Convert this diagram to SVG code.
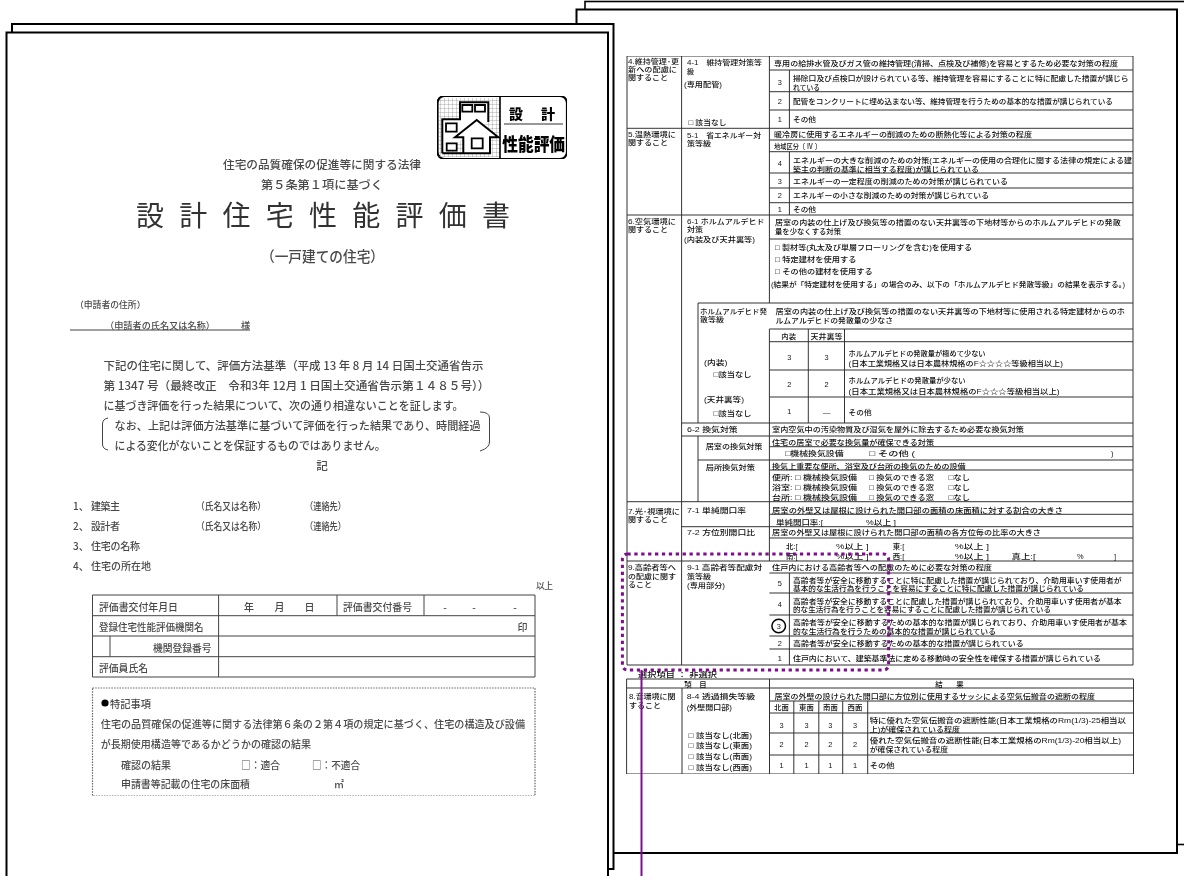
<svg xmlns="http://www.w3.org/2000/svg" width="1184" height="876" viewBox="0 0 1184 876">
<style>
text{font-family:"Noto Sans CJK JP","Noto Sans",sans-serif;dominant-baseline:central}
tspan{dominant-baseline:central}
.p{fill:#fff;stroke:#000;stroke-width:2}
.a{font-size:10px;fill:#4a4a4a;font-weight:500}
.b{font-family:"Liberation Sans","Noto Sans CJK JP",sans-serif;font-size:7.4px;fill:#111;font-weight:500;transform:translateY(.5px)}
.s{font-size:7px}
.c{text-anchor:middle}
.l{fill:none;stroke:#444;stroke-width:1}
.r{fill:none;stroke:#333;stroke-width:1}
</style>
<defs>
<filter id="soft" x="0" y="0" width="100%" height="100%"><feGaussianBlur stdDeviation="0.75"/></filter>
<filter id="softer" x="0" y="0" width="100%" height="100%"><feGaussianBlur stdDeviation="0.4"/></filter>
<pattern id="grid" width="4" height="4" patternUnits="userSpaceOnUse"><path d="M4 0H0V4" fill="none" stroke="#888" stroke-width=".7"/></pattern>
</defs>
<g id="sheets">
<rect class="p" x="585" y="1.500" width="620" height="843" style="stroke-width:1.600"/>
<rect class="p" x="576.500" y="9.500" width="600.500" height="843.500"/>
<rect class="p" x="12" y="24" width="601.500" height="845"/>
<rect class="p" x="6.500" y="32.500" width="601.500" height="860"/>
</g>
<g id="logo" filter="url(#softer)">
<rect x="437.500" y="96" width="129.500" height="63" rx="7" fill="#fff" stroke="#000" stroke-width="2.200"/>
<rect x="439" y="98" width="61" height="59" fill="url(#grid)"/>
<path d="M500 96V159" stroke="#000" stroke-width="1.600"/>
<path d="M442.300 153.300V119.300H460V102.300H488.300V122M463.300 153.300H442.300M455 137.300L476.700 120L498.300 137.300H490V153.300H463.300V137.300Z" fill="#fff" stroke="#000" stroke-width="2"/>
<path d="M462.300 105h10v6.700h-10zM475 105h10v6.700h-10zM446 123.300h10.700v8.400h-10.700zM446.700 143.300h10v7.400h-10zM471.700 138.300h11v10h-11z" fill="#fff" stroke="#000" stroke-width="1.800"/>
<path d="M504 124H563" stroke="#333"/>
<text x="516" y="112.500" class="c" style="font-size:14px;font-weight:900;fill:#000">設</text>
<text x="548" y="112.500" class="c" style="font-size:14px;font-weight:900;fill:#000">計</text>
<text x="502.300" y="142.500" textLength="62.700" lengthAdjust="spacingAndGlyphs" style="font-size:18px;font-weight:900;fill:#000">性能評価</text>
</g>
<g id="certificate-page" filter="url(#soft)">
<g id="title">
<text class="a" x="223" y="164" textLength="198" lengthAdjust="spacingAndGlyphs" style="font-size:11.600px">住宅の品質確保の促進等に関する法律</text>
<text class="a" x="261" y="184" textLength="122" lengthAdjust="spacingAndGlyphs" style="font-size:11.600px">第５条第１項に基づく</text>
<text class="a" x="136" y="214" textLength="374" style="font-size:28px;fill:#333;font-weight:400">設計住宅性能評価書</text>
<text class="a" x="261" y="255" textLength="123" lengthAdjust="spacingAndGlyphs" style="font-size:14.500px">（一戸建ての住宅）</text>
</g>
<g id="applicant">
<text class="a" x="75" y="304" textLength="70.500" lengthAdjust="spacingAndGlyphs" style="font-size:8.800px">（申請者の住所）</text>
<text class="a" x="105" y="325" textLength="110" lengthAdjust="spacingAndGlyphs" style="font-size:9.200px">（申請者の氏名又は名称）</text>
<text class="a" x="241" y="325" style="font-size:9.200px">様</text>
<path class="l" d="M70 330H250"/>
</g>
<g id="statement">
<text class="a" x="103.500" y="365" textLength="380" lengthAdjust="spacingAndGlyphs" style="font-size:11.600px">下記の住宅に関して、評価方法基準（平成 13 年 8 月 14 日国土交通省告示</text>
<text class="a" x="103.500" y="385" textLength="386" lengthAdjust="spacingAndGlyphs" style="font-size:11.600px">第 1347 号（最終改正　令和3年 12月 1 日国土交通省告示第１４８５号））</text>
<text class="a" x="103.500" y="405" textLength="360" lengthAdjust="spacingAndGlyphs" style="font-size:11.600px">に基づき評価を行った結果について、次の通り相違ないことを証します。</text>
<text class="a" x="114.600" y="425" textLength="366" lengthAdjust="spacingAndGlyphs" style="font-size:11.600px">なお、上記は評価方法基準に基づいて評価を行った結果であり、時間経過</text>
<text class="a" x="114.600" y="445" textLength="271" lengthAdjust="spacingAndGlyphs" style="font-size:11.600px">による変化がないことを保証するものではありません。</text>
<path class="l" d="M108 418Q102.500 419 102.500 424V444Q102.500 449 108 450M480 412Q489.500 412 489.500 418V442Q489.500 448 480 451"/>
<text class="a c" x="322" y="465" style="font-size:11.600px">記</text>
</g>
<g id="items">
<text class="a" x="73" y="505">1、</text><text class="a" x="91" y="505" textLength="29">建築主</text><text class="a" x="196" y="505" textLength="70" lengthAdjust="spacingAndGlyphs">（氏名又は名称）</text><text class="a" x="305" y="505" textLength="41" lengthAdjust="spacingAndGlyphs">（連絡先）</text>
<text class="a" x="73" y="525">2、</text><text class="a" x="91" y="525" textLength="29">設計者</text><text class="a" x="196" y="525" textLength="70" lengthAdjust="spacingAndGlyphs">（氏名又は名称）</text><text class="a" x="305" y="525" textLength="41" lengthAdjust="spacingAndGlyphs">（連絡先）</text>
<text class="a" x="73" y="545">3、</text><text class="a" x="91" y="545" textLength="49">住宅の名称</text>
<text class="a" x="73" y="565">4、</text><text class="a" x="91" y="565" textLength="60">住宅の所在地</text>
<text class="a" x="536" y="585" textLength="17" style="font-size:8.800px">以上</text>
</g>
<g id="issue-table">
<path class="l" d="M92.500 595H535V677H92.500ZM92.500 615.700H535M92.500 636H535M110 656.700H535M92.500 656.700H110M218.600 595V677M337 595V615.700M424 595V615.700M110 636V656.700"/>
<text class="a" x="99" y="606" textLength="79" lengthAdjust="spacingAndGlyphs">評価書交付年月日</text>
<text class="a c" x="249" y="606">年</text><text class="a c" x="279.500" y="606">月</text><text class="a c" x="309.500" y="606">日</text>
<text class="a" x="343" y="606" textLength="69" lengthAdjust="spacingAndGlyphs">評価書交付番号</text>
<text class="a c" x="445" y="606">-</text><text class="a c" x="474" y="606">-</text><text class="a c" x="515" y="606">-</text>
<text class="a" x="99" y="626.500" textLength="104.500" lengthAdjust="spacingAndGlyphs">登録住宅性能評価機関名</text>
<text class="a c" x="522.500" y="626.500">印</text>
<text class="a" x="153" y="647" textLength="58.500" lengthAdjust="spacingAndGlyphs">機関登録番号</text>
<text class="a" x="99" y="667.500" textLength="49" lengthAdjust="spacingAndGlyphs">評価員氏名</text>
</g>
<g id="notes">
<rect x="92.500" y="688" width="442.500" height="108" fill="none" stroke="#666" stroke-width="1.200" stroke-dasharray="1.500 1.200"/>
<circle cx="105" cy="703" r="3.600" fill="#000"/>
<text class="a" x="110" y="703" textLength="41" lengthAdjust="spacingAndGlyphs">特記事項</text>
<text class="a" x="100.800" y="723" textLength="424.200" lengthAdjust="spacingAndGlyphs">住宅の品質確保の促進等に関する法律第６条の２第４項の規定に基づく、住宅の構造及び設備</text>
<text class="a" x="100.800" y="743" textLength="210.200" lengthAdjust="spacingAndGlyphs">が長期使用構造等であるかどうかの確認の結果</text>
<text class="a" x="121" y="764" textLength="50">確認の結果</text>
<text class="a" x="241" y="764" textLength="39" lengthAdjust="spacingAndGlyphs">□：適合</text>
<text class="a" x="312" y="764" textLength="48" lengthAdjust="spacingAndGlyphs">□：不適合</text>
<text class="a" x="121" y="783" textLength="129" lengthAdjust="spacingAndGlyphs">申請書等記載の住宅の床面積</text>
<text class="a" x="334" y="783">㎡</text>
</g>
</g>
<g id="results-page" filter="url(#softer)">
<g id="main-table-lines">
<path class="r" d="M627 56H1133V665H627ZM681.600 56V665M769.400 56V303M769.400 329V423M789.400 70V128.300M789.400 151.700V215M789.400 573V665"/>
<path class="r" d="M769.400 70H1133M769.400 91.700H1133M769.400 110H1133M627 128.300H1133M769.400 140H1133M769.400 151.700H1133M769.400 173H1133M769.400 188H1133M769.400 202.700H1133M627 215H1133M769.400 239H1133M698 303H1133M698 303V423M769.400 329H1133M769.400 341.700H1133M769.400 370H1133M769.400 397H1133M681.600 423H1133M681.600 436H1133M769.400 423V501.700M769.400 446.700H1133M698 436V501.700M698 460H1133M769.400 470H1133M627 501.700H1133M808.300 329V423M844.500 329V423"/>
<path class="r" d="M769.400 514.300H1133M681.600 526.700H1133M769.400 538H1133M769.400 501.700V561M627 561H1133M769.400 573H1133M769.400 593H1133M769.400 615H1133M769.400 636H1133M769.400 649H1133"/>
</g>
<g id="section-4">
<text class="b s"><tspan x="628" y="60.500" textLength="51" lengthAdjust="spacingAndGlyphs">4.維持管理･更</tspan><tspan x="628" y="68.700" textLength="49" lengthAdjust="spacingAndGlyphs">新への配慮に</tspan><tspan x="628" y="76.900" textLength="40" lengthAdjust="spacingAndGlyphs">関すること</tspan></text>
<text class="b s"><tspan x="687" y="61.700" textLength="75" lengthAdjust="spacingAndGlyphs">4-1　維持管理対策等</tspan><tspan x="687" y="70">級</tspan></text><text class="b" x="684" y="84.300" textLength="38" lengthAdjust="spacingAndGlyphs">(専用配管)</text><text class="b" x="688.500" y="121.700" textLength="38" lengthAdjust="spacingAndGlyphs">□ 該当なし</text>
<text class="b" x="774" y="62.700" textLength="344" lengthAdjust="spacingAndGlyphs">専用の給排水管及びガス管の維持管理(清掃、点検及び補修)を容易とするため必要な対策の程度</text>
<text class="b c" x="779.800" y="82">3</text><text class="b"><tspan x="793" y="77.700" textLength="335.600" lengthAdjust="spacingAndGlyphs">掃除口及び点検口が設けられている等、維持管理を容易にすることに特に配慮した措置が講じら</tspan><tspan x="793" y="86.700" textLength="27" lengthAdjust="spacingAndGlyphs">れている</tspan></text>
<text class="b c" x="779.800" y="101">2</text><text class="b" x="793" y="101" textLength="320" lengthAdjust="spacingAndGlyphs">配管をコンクリートに埋め込まない等、維持管理を行うための基本的な措置が講じられている</text>
<text class="b c" x="779.800" y="119.300">1</text><text class="b" x="793" y="119.300" textLength="23" lengthAdjust="spacingAndGlyphs">その他</text>
</g>
<g id="section-5">
<text class="b s"><tspan x="628" y="133" textLength="48" lengthAdjust="spacingAndGlyphs">5.温熱環境に</tspan><tspan x="628" y="141.300" textLength="40" lengthAdjust="spacingAndGlyphs">関すること</tspan></text>
<text class="b s"><tspan x="687" y="134" textLength="74" lengthAdjust="spacingAndGlyphs">5-1　省エネルギー対</tspan><tspan x="687" y="142.300" textLength="24" lengthAdjust="spacingAndGlyphs">策等級</tspan></text>
<text class="b" x="774" y="134.300" textLength="258" lengthAdjust="spacingAndGlyphs">暖冷房に使用するエネルギーの削減のための断熱化等による対策の程度</text>
<text class="b" x="774" y="146" textLength="47" lengthAdjust="spacingAndGlyphs">地域区分〔 Ⅳ 〕</text>
<text class="b c" x="779.800" y="162.700">4</text><text class="b"><tspan x="793" y="159.300" textLength="339" lengthAdjust="spacingAndGlyphs">エネルギーの大きな削減のための対策(エネルギーの使用の合理化に関する法律の規定による建</tspan><tspan x="793" y="168.300" textLength="186" lengthAdjust="spacingAndGlyphs">築主の判断の基準に相当する程度)が講じられている</tspan></text>
<text class="b c" x="779.800" y="181">3</text><text class="b" x="793" y="181" textLength="215" lengthAdjust="spacingAndGlyphs">エネルギーの一定程度の削減のための対策が講じられている</text>
<text class="b c" x="779.800" y="195">2</text><text class="b" x="793" y="195" textLength="196" lengthAdjust="spacingAndGlyphs">エネルギーの小さな削減のための対策が講じられている</text>
<text class="b c" x="779.800" y="209">1</text><text class="b" x="793" y="209" textLength="23" lengthAdjust="spacingAndGlyphs">その他</text>
</g>
<g id="section-6">
<text class="b s"><tspan x="628" y="220" textLength="48" lengthAdjust="spacingAndGlyphs">6.空気環境に</tspan><tspan x="628" y="228.300" textLength="40" lengthAdjust="spacingAndGlyphs">関すること</tspan></text>
<text class="b s"><tspan x="687" y="220" textLength="77.600" lengthAdjust="spacingAndGlyphs">6-1 ホルムアルデヒド</tspan><tspan x="687" y="228.300" textLength="16" lengthAdjust="spacingAndGlyphs">対策</tspan><tspan x="684" y="238.300" textLength="71" lengthAdjust="spacingAndGlyphs">(内装及び天井裏等)</tspan></text>
<text class="b"><tspan x="775" y="221.500" textLength="345.700" lengthAdjust="spacingAndGlyphs">居室の内装の仕上げ及び換気等の措置のない天井裏等の下地材等からのホルムアルデヒドの発散</tspan><tspan x="775" y="230.200" textLength="66" lengthAdjust="spacingAndGlyphs">量を少なくする対策</tspan></text>
<text class="b" x="775" y="247.300" textLength="197" lengthAdjust="spacingAndGlyphs">□ 製材等(丸太及び単層フローリングを含む)を使用する</text>
<text class="b" x="775" y="259" textLength="81.500" lengthAdjust="spacingAndGlyphs">□ 特定建材を使用する</text>
<text class="b" x="775" y="271" textLength="97.700" lengthAdjust="spacingAndGlyphs">□ その他の建材を使用する</text>
<text class="b" x="771" y="284.300" textLength="354" lengthAdjust="spacingAndGlyphs">(結果が「特定建材を使用する」の場合のみ、以下の「ホルムアルデヒド発散等級」の結果を表示する。)</text>
<text class="b s"><tspan x="700" y="310" textLength="67" lengthAdjust="spacingAndGlyphs">ホルムアルデヒド発</tspan><tspan x="700" y="318.500" textLength="24" lengthAdjust="spacingAndGlyphs">散等級</tspan></text>
<text class="b"><tspan x="775.600" y="310.800" textLength="349.400" lengthAdjust="spacingAndGlyphs">居室の内装の仕上げ及び換気等の措置のない天井裏等の下地材等に使用される特定建材からのホ</tspan><tspan x="775.600" y="319.500" textLength="117.400" lengthAdjust="spacingAndGlyphs">ルムアルデヒドの発散量の少なさ</tspan></text>
<text class="b c" x="788.700" y="336">内装</text><text class="b c" x="826.600" y="336" textLength="32" lengthAdjust="spacingAndGlyphs">天井裏等</text>
<text class="b c" x="789.400" y="356.700">3</text><text class="b c" x="826.600" y="356.700">3</text>
<text class="b"><tspan x="848.600" y="352.700" textLength="137" lengthAdjust="spacingAndGlyphs">ホルムアルデヒドの発散量が極めて少ない</tspan><tspan x="848.600" y="362.300" textLength="214.400" lengthAdjust="spacingAndGlyphs">(日本工業規格又は日本農林規格のF☆☆☆☆等級相当以上)</tspan></text>
<text class="b c" x="789.400" y="384">2</text><text class="b c" x="826.600" y="384">2</text>
<text class="b"><tspan x="848.600" y="379.300" textLength="117" lengthAdjust="spacingAndGlyphs">ホルムアルデヒドの発散量が少ない</tspan><tspan x="848.600" y="390" textLength="211" lengthAdjust="spacingAndGlyphs">(日本工業規格又は日本農林規格のF☆☆☆等級相当以上)</tspan></text>
<text class="b c" x="789.400" y="411">1</text><text class="b c" x="826.600" y="412">—</text><text class="b" x="848.600" y="412.300" textLength="23" lengthAdjust="spacingAndGlyphs">その他</text>
<text class="b" x="704" y="361.700" textLength="23.400" lengthAdjust="spacingAndGlyphs">(内装)</text><text class="b" x="713.600" y="374.300" textLength="37.900" lengthAdjust="spacingAndGlyphs">□該当なし</text>
<text class="b" x="704" y="399.300" textLength="40" lengthAdjust="spacingAndGlyphs">(天井裏等)</text><text class="b" x="713.600" y="413.300" textLength="37.900" lengthAdjust="spacingAndGlyphs">□該当なし</text>
<text class="b" x="687" y="429.300" textLength="50.700" lengthAdjust="spacingAndGlyphs">6-2 換気対策</text><text class="b" x="772" y="429.300" textLength="252" lengthAdjust="spacingAndGlyphs">室内空気中の汚染物質及び湿気を屋外に除去するため必要な換気対策</text>
<text class="b" x="705.700" y="446" textLength="56.800" lengthAdjust="spacingAndGlyphs">居室の換気対策</text>
<text class="b"><tspan x="772" y="441.700" textLength="162" lengthAdjust="spacingAndGlyphs">住宅の居室で必要な換気量が確保できる対策</tspan><tspan x="785" y="452.300" textLength="58.500" lengthAdjust="spacingAndGlyphs">□機械換気設備</tspan><tspan x="869" y="452.300" textLength="46" lengthAdjust="spacingAndGlyphs">□ その他 (</tspan><tspan x="1111" y="452.300">)</tspan></text>
<text class="b" x="705.700" y="466.700" textLength="49.300" lengthAdjust="spacingAndGlyphs">局所換気対策</text>
<text class="b"><tspan x="772" y="465" textLength="193.700" lengthAdjust="spacingAndGlyphs">換気上重要な便所、浴室及び台所の換気のための設備</tspan><tspan x="772" y="476.700" textLength="85" lengthAdjust="spacingAndGlyphs">便所: □ 機械換気設備</tspan><tspan x="869" y="476.700" textLength="65" lengthAdjust="spacingAndGlyphs">□ 換気のできる窓</tspan><tspan x="948.500" y="476.700" textLength="21.500" lengthAdjust="spacingAndGlyphs">□なし</tspan><tspan x="772" y="486.700" textLength="85" lengthAdjust="spacingAndGlyphs">浴室: □ 機械換気設備</tspan><tspan x="869" y="486.700" textLength="65" lengthAdjust="spacingAndGlyphs">□ 換気のできる窓</tspan><tspan x="948.500" y="486.700" textLength="21.500" lengthAdjust="spacingAndGlyphs">□なし</tspan><tspan x="772" y="496.700" textLength="85" lengthAdjust="spacingAndGlyphs">台所: □ 機械換気設備</tspan><tspan x="869" y="496.700" textLength="65" lengthAdjust="spacingAndGlyphs">□ 換気のできる窓</tspan><tspan x="948.500" y="496.700" textLength="21.500" lengthAdjust="spacingAndGlyphs">□なし</tspan></text>
</g>
<g id="section-7">
<text class="b s"><tspan x="628" y="510" textLength="52" lengthAdjust="spacingAndGlyphs">7.光･視環境に</tspan><tspan x="628" y="518.300" textLength="40" lengthAdjust="spacingAndGlyphs">関すること</tspan></text>
<text class="b" x="687" y="510" textLength="59" lengthAdjust="spacingAndGlyphs">7-1 単純開口率</text>
<text class="b"><tspan x="772" y="509" textLength="291" lengthAdjust="spacingAndGlyphs">居室の外壁又は屋根に設けられた開口部の面積の床面積に対する割合の大きさ</tspan><tspan x="776" y="521" textLength="47" lengthAdjust="spacingAndGlyphs">単純開口率:[</tspan><tspan x="866" y="521" textLength="30" lengthAdjust="spacingAndGlyphs">%以上 ]</tspan></text>
<text class="b" x="687" y="532.300" textLength="68" lengthAdjust="spacingAndGlyphs">7-2 方位別開口比</text><text class="b" x="772" y="532.300" textLength="269" lengthAdjust="spacingAndGlyphs">居室の外壁又は屋根に設けられた開口部の面積の各方位毎の比率の大きさ</text>
<text class="b"><tspan x="786" y="545.700">北:[</tspan><tspan x="836" y="545.700" textLength="32.600" lengthAdjust="spacingAndGlyphs">%以上 ]</tspan><tspan x="892.700" y="545.700">東:[</tspan><tspan x="954.700" y="545.700" textLength="34.300" lengthAdjust="spacingAndGlyphs">%以上 ]</tspan><tspan x="786" y="555.700">南:[</tspan><tspan x="836" y="555.700" textLength="32.600" lengthAdjust="spacingAndGlyphs">%以上 ]</tspan><tspan x="892.700" y="555.700">西:[</tspan><tspan x="954.700" y="555.700" textLength="34.300" lengthAdjust="spacingAndGlyphs">%以上 ]</tspan><tspan x="1011.500" y="555.700" textLength="24" lengthAdjust="spacingAndGlyphs">真上:[</tspan><tspan x="1077" y="555.700">%</tspan><tspan x="1114" y="555.700">]</tspan></text>
</g>
<g id="section-9">
<text class="b s"><tspan x="628" y="566.700" textLength="48" lengthAdjust="spacingAndGlyphs">9.高齢者等へ</tspan><tspan x="628" y="575" textLength="48" lengthAdjust="spacingAndGlyphs">の配慮に関す</tspan><tspan x="628" y="583.300" textLength="24" lengthAdjust="spacingAndGlyphs">ること</tspan></text>
<text class="b s"><tspan x="687" y="566.700" textLength="75" lengthAdjust="spacingAndGlyphs">9-1 高齢者等配慮対</tspan><tspan x="687" y="575.500" textLength="24" lengthAdjust="spacingAndGlyphs">策等級</tspan><tspan x="687" y="584.300" textLength="38" lengthAdjust="spacingAndGlyphs">(専用部分)</tspan></text>
<text class="b" x="772" y="566.700" textLength="220" lengthAdjust="spacingAndGlyphs">住戸内における高齢者等への配慮のために必要な対策の程度</text>
<text class="b c" x="779.800" y="582.700">5</text><text class="b"><tspan x="793" y="579" textLength="328.700" lengthAdjust="spacingAndGlyphs">高齢者等が安全に移動することに特に配慮した措置が講じられており、介助用車いす使用者が</tspan><tspan x="793" y="587.700" textLength="291" lengthAdjust="spacingAndGlyphs">基本的な生活行為を行うことを容易にすることに特に配慮した措置が講じられている</tspan></text>
<text class="b c" x="779.800" y="604.300">4</text><text class="b"><tspan x="793" y="600" textLength="328.700" lengthAdjust="spacingAndGlyphs">高齢者等が安全に移動することに配慮した措置が講じられており、介助用車いす使用者が基本</tspan><tspan x="793" y="608.700" textLength="258" lengthAdjust="spacingAndGlyphs">的な生活行為を行うことを容易にすることに配慮した措置が講じられている</tspan></text>
<text class="b c" x="778.700" y="626">3</text><circle cx="778.700" cy="626" r="6.800" fill="none" stroke="#000" stroke-width="1.500"/>
<text class="b"><tspan x="793" y="621.500" textLength="334" lengthAdjust="spacingAndGlyphs">高齢者等が安全に移動するための基本的な措置が講じられており、介助用車いす使用者が基本</tspan><tspan x="793" y="630.200" textLength="203" lengthAdjust="spacingAndGlyphs">的な生活行為を行うための基本的な措置が講じられている</tspan></text>
<text class="b c" x="779.800" y="643.300">2</text><text class="b" x="793" y="643.300" textLength="230.600" lengthAdjust="spacingAndGlyphs">高齢者等が安全に移動するための基本的な措置が講じられている</text>
<text class="b c" x="779.800" y="658.300">1</text><text class="b" x="793" y="658.300" textLength="308" lengthAdjust="spacingAndGlyphs">住戸内において、建築基準法に定める移動時の安全性を確保する措置が講じられている</text>
</g>
<g id="unselected-note">
<text class="b" x="638" y="673.500" textLength="79" lengthAdjust="spacingAndGlyphs">選択項目 ： 非選択</text>
</g>
<g id="section-8">
<path class="r" d="M626.600 679H1133.500V774H626.600ZM626.600 688H1133.500M769.500 701H1133.500M769.500 713H1133.500M769.500 733H1133.500M769.500 755H1133.500M682 688V774M769.500 679V774M793.800 701V774M818.800 701V774M842.700 701V774M867.700 701V774"/>
<text class="b c" x="688" y="683.500">項</text><text class="b c" x="703" y="683.500">目</text><text class="b c" x="939" y="683.500">結</text><text class="b c" x="960" y="683.500">果</text>
<text class="b s"><tspan x="629" y="695.500" textLength="46.500" lengthAdjust="spacingAndGlyphs">8.音環境に関</tspan><tspan x="629" y="704" textLength="32" lengthAdjust="spacingAndGlyphs">すること</tspan></text>
<text class="b" x="686.700" y="695.500" textLength="68.300" lengthAdjust="spacingAndGlyphs">8-4 透過損失等級</text><text class="b" x="686.700" y="707.300" textLength="45.300" lengthAdjust="spacingAndGlyphs">(外壁開口部)</text>
<text class="b"><tspan x="688.600" y="734" textLength="63.400" lengthAdjust="spacingAndGlyphs">□ 該当なし(北面)</tspan><tspan x="688.600" y="744" textLength="63.400" lengthAdjust="spacingAndGlyphs">□ 該当なし(東面)</tspan><tspan x="688.600" y="755.300" textLength="63.400" lengthAdjust="spacingAndGlyphs">□ 該当なし(南面)</tspan><tspan x="688.600" y="766" textLength="63.400" lengthAdjust="spacingAndGlyphs">□ 該当なし(西面)</tspan></text>
<text class="b" x="774.500" y="695.500" textLength="320.500" lengthAdjust="spacingAndGlyphs">居室の外壁の設けられた開口部に方位別に使用するサッシによる空気伝搬音の遮断の程度</text>
<text class="b c" x="781.500" y="707">北面</text><text class="b c" x="806.500" y="707">東面</text><text class="b c" x="830.400" y="707">南面</text><text class="b c" x="855" y="707">西面</text>
<text class="b c" x="781.500" y="725">3</text><text class="b c" x="806.500" y="725">3</text><text class="b c" x="830.400" y="725">3</text><text class="b c" x="855" y="725">3</text>
<text class="b"><tspan x="869.700" y="719.300" textLength="256.300" lengthAdjust="spacingAndGlyphs">特に優れた空気伝搬音の遮断性能(日本工業規格のRm(1/3)-25相当以</tspan><tspan x="869.700" y="728.300" textLength="90.300" lengthAdjust="spacingAndGlyphs">上)が確保されている程度</tspan></text>
<text class="b c" x="781.500" y="744.300">2</text><text class="b c" x="806.500" y="744.300">2</text><text class="b c" x="830.400" y="744.300">2</text><text class="b c" x="855" y="744.300">2</text>
<text class="b"><tspan x="869.700" y="739.300" textLength="251.300" lengthAdjust="spacingAndGlyphs">優れた空気伝搬音の遮断性能(日本工業規格のRm(1/3)-20相当以上)</tspan><tspan x="869.700" y="748.700" textLength="78.300" lengthAdjust="spacingAndGlyphs">が確保されている程度</tspan></text>
<text class="b c" x="781.500" y="765">1</text><text class="b c" x="806.500" y="765">1</text><text class="b c" x="830.400" y="765">1</text><text class="b c" x="855" y="765">1</text><text class="b" x="869.700" y="765" textLength="25" lengthAdjust="spacingAndGlyphs">その他</text>
</g>
</g>
<g id="connectors">
<rect x="622.400" y="554" width="266.200" height="116" rx="5" fill="none" stroke="#7d0f8c" stroke-width="3" stroke-dasharray="3.300 3.600"/>
<path d="M641.500 670V876" fill="none" stroke="#7d0f8c" stroke-width="2"/>
</g>
</svg>
